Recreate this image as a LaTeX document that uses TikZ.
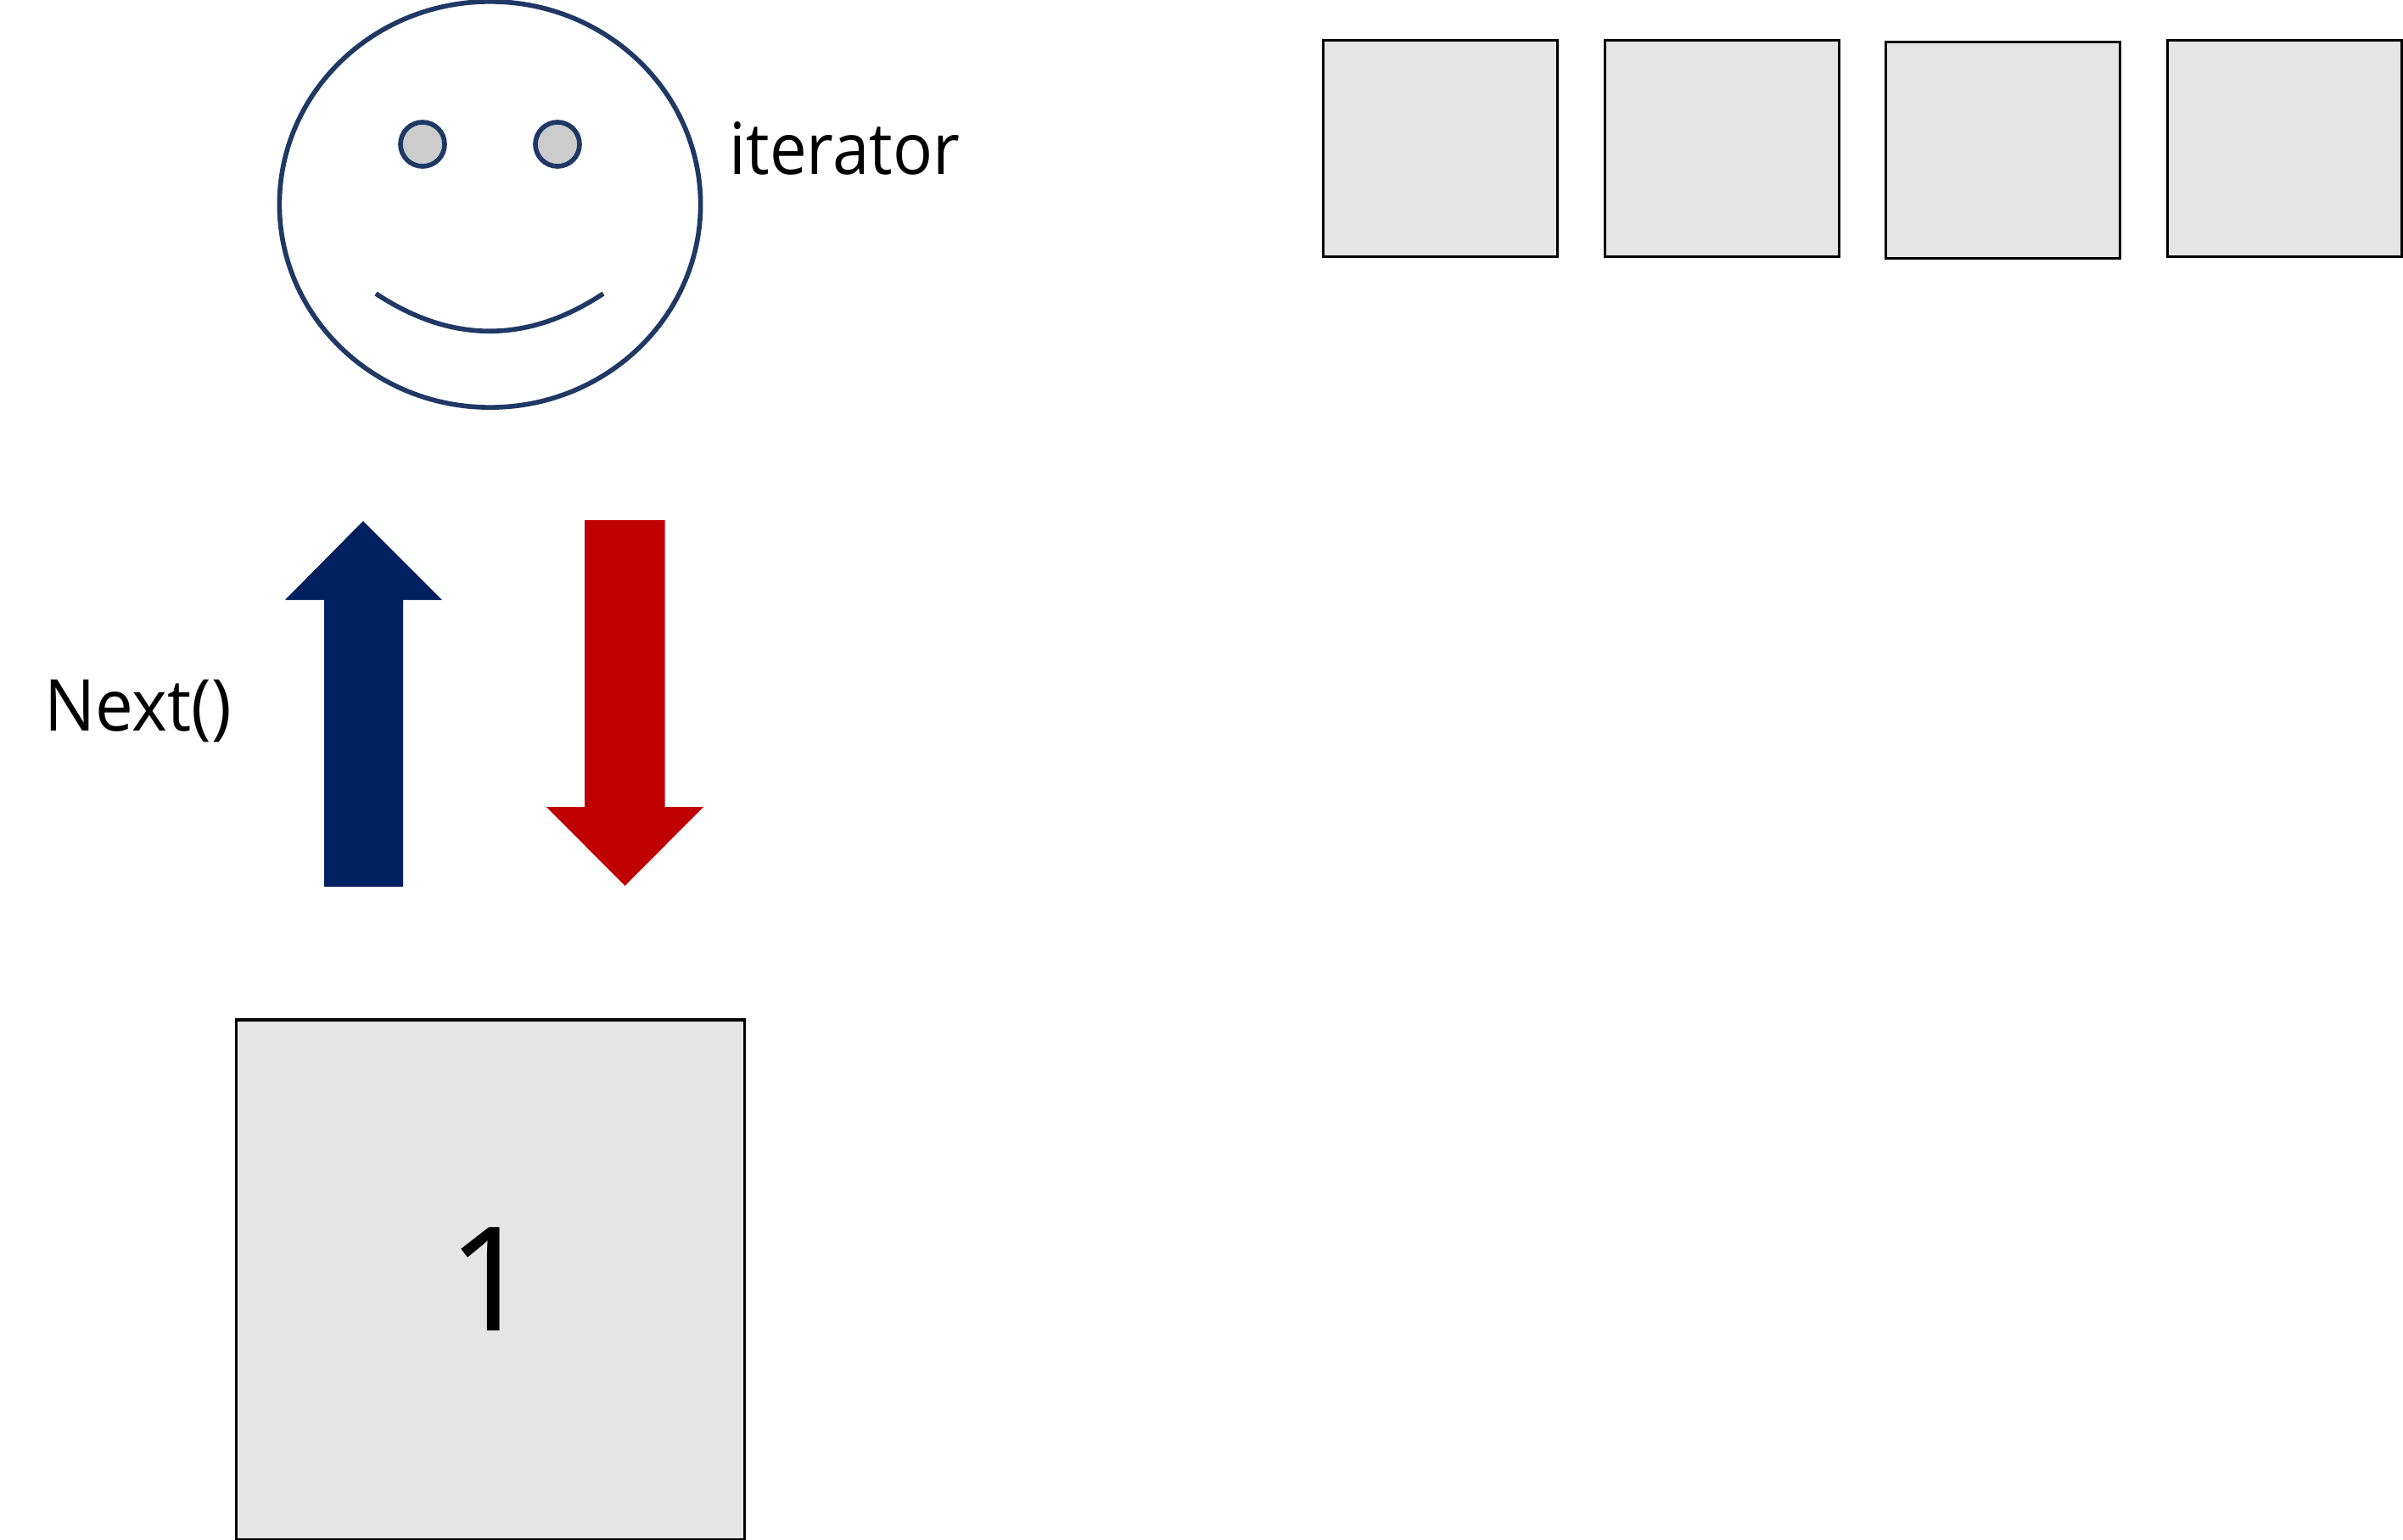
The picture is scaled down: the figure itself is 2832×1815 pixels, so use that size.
\documentclass[tikz,border=0pt]{standalone}
\usepackage{fontspec}
\setmainfont[FakeStretch=0.925]{Open Sans}
\newfontfamily\nextfont[FakeStretch=0.945]{Open Sans}
\newfontfamily\digitfont{Noto Sans}
\usetikzlibrary{shapes.geometric}
\definecolor{facecol}{HTML}{1F3864}
\definecolor{navycol}{HTML}{002060}
\definecolor{redcol}{HTML}{C00000}
\definecolor{boxgray}{HTML}{E5E5E5}
\definecolor{eyegray}{HTML}{CCCCCC}
\tikzset{
  databox/.style={draw=black,fill=boxgray,line width=1pt,rectangle,inner sep=0pt,outer sep=0pt,anchor=north west,text=black},
  smallbox/.style={databox,minimum width=2.76cm,minimum height=2.55cm},
  faceline/.style={draw=facecol,line width=1.6pt},
  eyeshape/.style={faceline,fill=eyegray,ellipse,inner sep=0pt,outer sep=0pt,minimum width=0.52cm,minimum height=0.52cm},
  label/.style={inner sep=0pt,anchor=base west,font=\fontsize{24}{29}\selectfont,text=black}
}
\begin{document}
\begin{tikzpicture}[x=0.01cm,y=-0.01cm]
\useasboundingbox (0,0) rectangle (2832,1815);
% face
\node[faceline,ellipse,inner sep=0pt,outer sep=0pt,minimum width=4.96cm,minimum height=4.78cm] (face) at (577.5,241) {};
\node[eyeshape] (eyeL) at (498,170) {};
\node[eyeshape] (eyeR) at (657,170) {};
\coordinate (smileL) at (443,346);
\coordinate (smileR) at (711,346);
\draw[faceline] (smileL) .. controls (532,405) and (622,405) .. (smileR);
\node[label] (iterator) at (859,205) {iterator};
% arrows
\fill[navycol] (382,1045) -- (382,707) -- (336,707) -- (428,614) -- (521,707) -- (475,707) -- (475,1045) -- cycle;
\fill[redcol] (689,613) -- (689,951) -- (644,951) -- (736.5,1044) -- (829,951) -- (783.5,951) -- (783.5,613) -- cycle;
\node[label,font=\nextfont\fontsize{24}{29}\selectfont] (next) at (52,861) {Next()};
% large box
\node[databox,minimum width=5.985cm,minimum height=6.12cm] (one) at (278.5,1202) {};
\node[inner sep=0pt,anchor=base,font=\digitfont\fontsize{48.5}{58}\selectfont,text=black] (onelabel) at (577,1568) {1};
% small boxes
\node[smallbox] (b1) at (1559.5,47.5) {};
\node[smallbox] (b2) at (1891.5,47.5) {};
\node[smallbox] (b3) at (2222.5,49.5) {};
\node[smallbox] (b4) at (2554.5,47.5) {};
\end{tikzpicture}
\end{document}
